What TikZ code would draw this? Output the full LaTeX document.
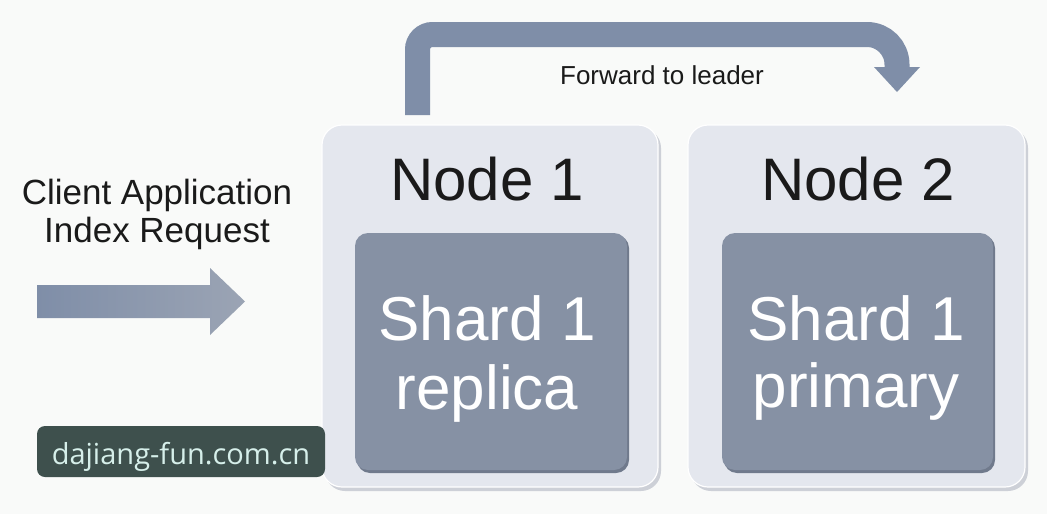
\documentclass[tikz,border=0pt]{standalone}
\usepackage{fontspec}
\setmainfont{Liberation Sans}
\newfontfamily\wmfont{Open Sans}
\usetikzlibrary{calc}
\definecolor{bgc}{HTML}{F9FAF9}
\definecolor{outerc}{HTML}{E4E7EE}
\definecolor{outersh}{HTML}{CDD0D7}
\definecolor{innerc}{HTML}{8691A4}
\definecolor{innersh}{HTML}{707A8C}
\definecolor{arrowc}{HTML}{7F8EA8}
\definecolor{arrowl}{HTML}{9BA4B4}
\definecolor{wmbg}{HTML}{3E504D}
\definecolor{wmtx}{HTML}{D6EFEA}
\definecolor{txt}{HTML}{1A1A1A}
\tikzset{
  nodebox/.style={fill=outerc, draw=white, line width=1.2pt, rounded corners=20pt},
  nodeshadow/.style={fill=outersh, rounded corners=20pt},
  shardbox/.style={fill=innerc, rounded corners=13pt},
  shardshadow/.style={fill=innersh, rounded corners=13pt},
  titletext/.style={anchor=base, inner sep=0pt, text=txt, font=\fontsize{60}{60}\selectfont},
  shardtext/.style={anchor=base, inner sep=0pt, text=white, font=\fontsize{62}{62}\selectfont},
  labeltext/.style={anchor=base, inner sep=0pt, text=txt},
  flowline/.style={draw=arrowc, line width=25pt},
}
\begin{document}
\begin{tikzpicture}[x=1pt,y=-1pt]
\useasboundingbox (0,0) rectangle (1047,514);
\fill[bgc] (0,0) rectangle (1047,514);

% Node 1
\fill[nodeshadow] (325,128) rectangle (661,491);
\path[nodebox] (322,125) rectangle (658,487);
\node[coordinate] (n1top) at (417.5,125) {};
\fill[shardshadow] (357,235) rectangle (629,473);
\fill[shardbox] (355,233) rectangle (627,470);
\node[titletext] (node1) at (487,200) {Node 1};
\node[shardtext] (s1a) at (487,340) {Shard 1};
\node[shardtext] (s1b) at (487,409) {replica};

% Node 2
\fill[nodeshadow] (691,128) rectangle (1028,491);
\path[nodebox] (688,125) rectangle (1025,487);
\fill[shardshadow] (724,235) rectangle (995,473);
\fill[shardbox] (722,233) rectangle (993,470);
\node[titletext] (node2) at (858,200) {Node 2};
\node[shardtext] (s2a) at (856,340) {Shard 1};
\node[shardtext] (s2b) at (856,407) {primary};

% Forward arrow
\coordinate (fstart) at (417.5,115);
\coordinate (fend) at (897,69);
\coordinate (ftip) at (897,92);
\draw[flowline] (fstart) [rounded corners=15pt] -- (fstart |- 0,34.5) [rounded corners=30pt] -- (fend |- 0,34.5) [sharp corners] -- (fend);
\fill[arrowc] ($(fend)+(-23,-2)$) -- ($(fend)+(23,-2)$) -- (ftip) -- cycle;
\node[labeltext, font=\fontsize{26}{26}\selectfont] (fwd) at (662,84) {Forward to leader};

% Client request
\node[labeltext, font=\fontsize{35}{35}\selectfont] (cl1) at (157,204) {Client Application};
\node[labeltext, font=\fontsize{35}{35}\selectfont] (cl2) at (157,242) {Index Request};
\coordinate (la) at (37,301.5);
\coordinate (lb) at (245,301.5);
\shade[left color=arrowc, right color=arrowl]
  ($(la)+(0,-16.5)$) -- ($(lb)+(-35,-16.5)$) -- ($(lb)+(-35,-33.5)$) -- (lb)
  -- ($(lb)+(-35,33.5)$) -- ($(lb)+(-35,16.5)$) -- ($(la)+(0,16.5)$) -- cycle;

% Watermark
\fill[wmbg, rounded corners=8pt] (37,426) rectangle (325,477);
\node[anchor=base, inner sep=0pt, text=wmtx, font=\wmfont\fontsize{29}{29}\selectfont] (wm) at (181,464) {dajiang-fun.com.cn};
\end{tikzpicture}
\end{document}
